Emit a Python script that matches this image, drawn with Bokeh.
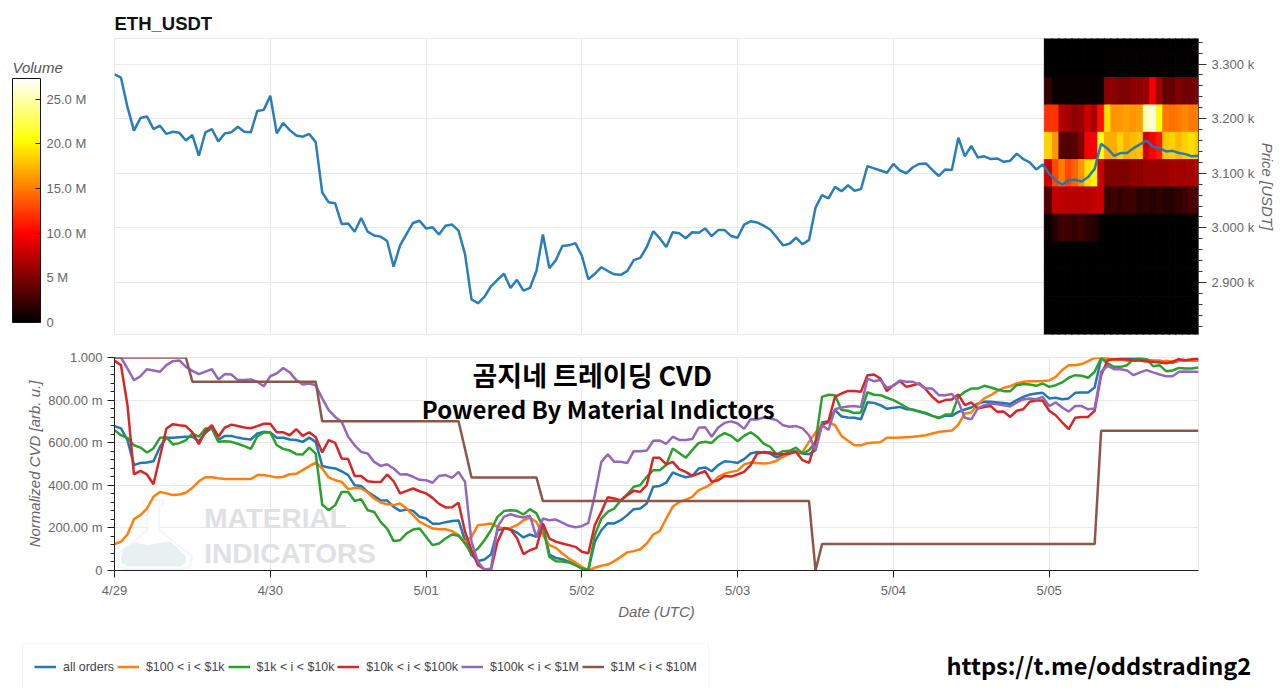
from bokeh.plotting import figure
from bokeh.layouts import column, row
from bokeh.models import (ColumnDataSource, FixedTicker, Range1d, LinearColorMapper, ColorBar,
                          Legend, LegendItem, Label, PolyAnnotation)
from bokeh.embed import file_html
from bokeh.resources import INLINE

hours = list(range(168))
day_ticks = [0, 24, 48, 72, 96, 120, 144]
day_labels = ["4/29", "4/30", "5/01", "5/02", "5/03", "5/04", "5/05"]

price = [3281,3275,3221,3178,3201,3204,3181,3187,3172,3176,3174,3160,3170,3132,3175,3181,3158,3173,3175,3185,3176,3175,3214,3216,
         3242,3173,3192,3179,3169,3167,3172,3157,3065,3047,3045,3007,3008,2993,3018,2993,2986,2984,2976,2929,2968,2989,3009,3013,
         2999,3001,2988,3004,3006,2995,2952,2869,2862,2874,2893,2905,2916,2890,2905,2885,2890,2921,2988,2926,2941,2967,2968,2972,
         2949,2906,2916,2928,2921,2915,2914,2921,2941,2945,2965,2994,2981,2965,2992,2990,2981,2992,2991,2999,2985,2996,2996,2985,
         2982,3006,3012,3010,3004,2997,2983,2968,2971,2982,2970,2978,3037,3060,3054,3075,3067,3078,3068,3071,3113,3109,3105,3101,
         3117,3105,3100,3111,3117,3118,3106,3095,3107,3106,3165,3131,3150,3129,3131,3126,3127,3121,3123,3136,3126,3120,3107,3116,
         3099,3087,3079,3087,3088,3085,3093,3108,3154,3145,3132,3137,3137,3146,3153,3160,3148,3146,3140,3141,3137,3135,3131,3132]

cvd_all = [.678,.667,.612,.495,.505,.507,.513,.58,.623,.623,.626,.628,.628,.607,.646,.67,.613,.632,.632,.624,.618,.615,.643,.651,
           .648,.623,.623,.615,.613,.604,.624,.604,.491,.484,.479,.466,.448,.40,.397,.369,.35,.33,.329,.299,.28,.286,.28,.252,
           .244,.22,.219,.227,.232,.235,.142,.072,.045,.052,.075,.189,.197,.194,.178,.155,.169,.158,.213,.075,.059,.053,.041,.028,
           .013,.002,.135,.189,.222,.221,.236,.26,.288,.291,.315,.393,.397,.412,.46,.448,.438,.443,.479,.484,.466,.495,.513,.51,
           .505,.523,.549,.556,.554,.549,.531,.541,.557,.56,.549,.546,.565,.695,.701,.753,.723,.718,.717,.71,.79,.787,.776,.759,
           .764,.768,.757,.756,.745,.737,.726,.717,.726,.726,.745,.756,.765,.784,.792,.792,.789,.786,.782,.80,.815,.826,.831,.834,
           .808,.811,.804,.808,.834,.836,.836,.859,.995,.995,.992,.995,.995,.995,.995,.99,.985,.985,.98,.975,.985,.985,.985,.985]

cvd_100_1k = [.124,.135,.169,.241,.26,.291,.346,.369,.362,.354,.357,.365,.388,.419,.438,.438,.433,.43,.43,.43,.429,.429,.448,.448,
              .443,.437,.44,.452,.454,.471,.49,.507,.479,.437,.424,.416,.382,.388,.385,.366,.338,.319,.311,.307,.315,.291,.26,.228,
              .213,.197,.194,.194,.185,.166,.135,.158,.213,.216,.221,.205,.197,.2,.213,.236,.247,.228,.166,.119,.106,.08,.056,.038,
              .017,0,.013,.022,.028,.044,.064,.085,.091,.1,.127,.169,.185,.244,.299,.322,.332,.346,.377,.39,.408,.44,.455,.463,
              .469,.498,.507,.505,.502,.505,.515,.534,.549,.557,.557,.604,.648,.685,.695,.682,.632,.609,.588,.588,.598,.601,.602,.623,
              .623,.624,.626,.628,.631,.635,.643,.651,.654,.657,.685,.737,.742,.779,.808,.823,.842,.858,.865,.878,.886,.889,.889,.89,
              .892,.909,.941,.964,.964,.969,.983,.998,1.0,.992,.99,.99,.985,.985,.99,.985,.985,.98,.985,.98,.985,.985,.985,.985]

cvd_1k_10k = [.659,.635,.623,.588,.577,.554,.573,.623,.626,.592,.598,.612,.643,.628,.667,.667,.604,.607,.604,.595,.584,.571,.629,.648,
              .648,.588,.571,.563,.546,.545,.577,.549,.31,.283,.307,.369,.369,.326,.335,.283,.275,.228,.197,.138,.142,.174,.192,.197,
              .158,.119,.127,.15,.169,.163,.127,.08,.103,.142,.189,.252,.279,.283,.28,.263,.288,.268,.205,.064,.044,.042,.038,.025,
              .009,.002,.166,.244,.275,.291,.33,.358,.393,.401,.44,.471,.471,.495,.573,.552,.529,.565,.599,.604,.599,.628,.645,.632,
              .607,.632,.649,.628,.596,.581,.545,.56,.562,.577,.549,.565,.604,.815,.825,.823,.753,.75,.739,.742,.837,.825,.823,.811,
              .80,.784,.765,.753,.748,.74,.726,.715,.732,.734,.815,.839,.854,.854,.867,.859,.85,.842,.842,.87,.876,.873,.867,.878,
              .862,.87,.883,.905,.917,.914,.905,.933,.998,.972,.956,.956,.964,.992,.995,.992,.959,.964,.936,.939,.951,.948,.948,.953]

cvd_10k_100k = [.984,.964,.776,.451,.468,.451,.405,.534,.667,.687,.682,.678,.648,.593,.654,.682,.628,.671,.685,.678,.671,.668,.678,.689,
                .689,.649,.649,.635,.664,.632,.649,.626,.554,.612,.599,.526,.523,.444,.444,.419,.416,.415,.451,.419,.362,.374,.385,.372,
                .362,.341,.313,.296,.297,.318,.182,.095,.025,.006,.002,.135,.2,.192,.153,.077,.095,.106,.221,.15,.135,.127,.119,.111,
                .088,.081,.213,.275,.344,.338,.329,.354,.374,.369,.401,.529,.529,.498,.51,.476,.463,.444,.455,.466,.416,.424,.444,.441,
                .451,.463,.495,.549,.556,.554,.546,.546,.549,.557,.518,.505,.604,.682,.701,.815,.831,.843,.843,.839,.917,.92,.901,.842,
                .87,.889,.862,.87,.878,.85,.815,.789,.80,.803,.826,.776,.789,.761,.768,.772,.745,.746,.721,.75,.757,.792,.798,.798,
                .75,.729,.695,.664,.717,.721,.721,.75,.917,.987,.992,.992,.991,.986,.986,.981,.98,.977,.973,.98,.992,.987,.992,.994]

cvd_100k_1m = [1.0,1.0,.948,.894,.912,.945,.939,.933,.964,.983,.986,.956,.937,.922,.934,.945,.897,.922,.92,.894,.894,.897,.886,.865,
               .912,.925,.951,.93,.894,.873,.878,.87,.808,.753,.721,.698,.628,.588,.557,.549,.51,.491,.499,.479,.451,.452,.44,.426,
               .424,.412,.444,.448,.435,.463,.416,.135,.041,.002,.009,.205,.252,.264,.255,.249,.257,.158,.244,.236,.239,.225,.21,.203,
               .208,.224,.354,.51,.545,.51,.51,.505,.56,.56,.563,.609,.61,.595,.628,.613,.613,.617,.67,.673,.628,.671,.693,.70,
               .69,.665,.71,.709,.718,.714,.706,.682,.675,.678,.667,.635,.565,.682,.66,.757,.765,.77,.772,.767,.901,.889,.894,.858,
               .867,.892,.886,.886,.873,.854,.854,.823,.823,.829,.792,.717,.71,.761,.776,.784,.781,.776,.77,.789,.803,.808,.804,.815,
               .772,.789,.765,.746,.772,.772,.757,.761,.933,.961,.945,.945,.939,.917,.93,.941,.93,.92,.912,.912,.933,.934,.933,.933]

cvd_1m_10m = [1.0,1.0,1.0,1.0,1.0,1.0,1.0,1.0,1.0,1.0,1.0,1.0,.886,.886,.886,.886,.886,.886,.886,.886,.886,.886,.886,.886,
              .886,.886,.886,.886,.886,.886,.886,.886,.701,.701,.701,.701,.701,.701,.701,.701,.701,.701,.701,.701,.701,.701,.701,.701,
              .701,.701,.701,.701,.701,.701,.57,.437,.437,.437,.437,.437,.437,.437,.437,.437,.437,.437,.326,.326,.326,.326,.326,.326,
              .326,.326,.326,.326,.326,.326,.326,.326,.326,.326,.326,.326,.326,.326,.326,.326,.326,.326,.326,.326,.326,.326,.326,.326,
              .326,.326,.326,.326,.326,.326,.326,.326,.326,.326,.326,.326,0,.124,.124,.124,.124,.124,.124,.124,.124,.124,.124,.124,
              .124,.124,.124,.124,.124,.124,.124,.124,.124,.124,.124,.124,.124,.124,.124,.124,.124,.124,.124,.124,.124,.124,.124,.124,
              .124,.124,.124,.124,.124,.124,.124,.124,.656,.656,.656,.656,.656,.656,.656,.656,.656,.656,.656,.656,.656,.656,.656,.656]

series_names = ["all orders", "$100 < i < $1k", "$1k < i < $10k", "$10k < i < $100k", "$100k < i < $1M", "$1M < i < $10M"]
series_colors = ["#1f77b4", "#ff7f0e", "#2ca02c", "#d62728", "#9467bd", "#8c564b"]
series_values = [cvd_all, cvd_100_1k, cvd_1k_10k, cvd_10k_100k, cvd_100k_1m, cvd_1m_10m]
for s in series_values + [price]:
    assert len(s) == 168, len(s)

# order-book volume heat strip, millions, one value per hour h144..h167, one row per 50 USD price bin
heat_hours = list(range(144, 168))
heat_rows = {
    3350: [.1,.1,.1,.1,.1,.1,.1,.1,.1,.1,.1,.1,.1,.1,.1,.1,.1,.1,.1,.1,.1,.1,.1,.1],
    3300: [.1,.1,.1,.1,.1,.1,.1,.1,.1,.2,.2,.2,.2,.2,.2,.2,.2,.2,.2,.2,.2,.2,.2,.2],
    3250: [2,.5,.5,.5,.5,.5,.5,.5,.5,5.5,5.5,5,5,5.5,5.5,6,9.5,6,4,4,5,4.5,4.5,5],
    3200: [12,12,7,6.5,5.5,6,8,6.5,10.5,19,16,16,16.5,16,16.5,25,26.5,20.5,15,14.5,15,15.5,15,15],
    3150: [18.5,16,3.5,3,3.5,5,9.5,9.5,21,17,17,18.5,17,17.5,18,8,10,11,18,18.5,17.5,18.5,19,18],
    3100: [8,13,15,13,14,16,19,20,8,5,5,5,5,5.5,5.5,6,6,6,6,6.5,6.5,6.5,6.5,7],
    3050: [3,7.5,7.5,7.2,7.2,7.2,7.2,7.5,8,2,2.5,2,2.5,2.5,1.5,2,1.5,2,1.5,1.5,2,2.5,3,2.5],
    3000: [.5,1.5,2.5,2.5,2,2.5,1.8,1.5,.4,.1,.1,.1,.1,.1,.1,.1,.1,.1,.1,.1,.1,.1,.1,.1],
    2950: [.1,.1,.1,.1,.1,.1,.1,.1,.1,.05,.05,.05,.05,.05,.05,.05,.05,.05,.05,.05,.05,.05,.05,.05],
    2900: [.05,.05,.05,.05,.05,.05,.05,.05,.05,.05,.05,.05,.05,.05,.05,.05,.05,.05,.05,.05,.05,.05,.05,.05],
    2850: [.05,.05,.05,.05,.05,.05,.05,.05,.05,.05,.05,.05,.05,.05,.05,.05,.05,.05,.05,.05,.05,.05,.05,.05],
    2800: [.05,.05,.05,.05,.05,.05,.05,.05,.05,.05,.05,.05,.05,.05,.05,.05,.05,.05,.05,.05,.05,.05,.05,.05],
}

price_ticks = [2900, 3000, 3100, 3200, 3300]
price_labels = ["2.900 k", "3.000 k", "3.100 k", "3.200 k", "3.300 k"]
cvd_ticks = [0, .2, .4, .6, .8, 1.0]
cvd_labels = ["0", "200.00 m", "400.00 m", "600.00 m", "800.00 m", "1.000"]
vol_ticks = [0, 5, 10, 15, 20, 25]
vol_labels = ["0", "5 M", "10.0 M", "15.0 M", "20.0 M", "25.0 M"]


def hot(n=256):
    out = []
    for i in range(n):
        t = i / (n - 1)
        r = min(1, t / .365)
        g = max(0, min(1, (t - .365) / .381))
        b = max(0, min(1, (t - .746) / .254))
        out.append("#%02x%02x%02x" % (round(r * 255), round(g * 255), round(b * 255)))
    return out


palette = hot()
FONT = "Liberation Sans"
CJK = "Noto Sans CJK KR"
GREY = "#666666"
GRID = "#e9e9e9"
x_range = Range1d(0, 167)
mapper = LinearColorMapper(palette=palette, low=0, high=27.3)

# ---------- colour bar column ----------
p0 = figure(width=114, height=348, x_range=Range1d(0, 114), y_range=Range1d(348, 0),
            x_axis_type=None, y_axis_type=None, toolbar_location=None, output_backend="svg", frame_align=False,
            min_border_left=0, min_border_right=0, min_border_top=0, min_border_bottom=0)
p0.outline_line_color = None
p0.add_layout(Label(x=12, y=67, text="Volume", text_font=FONT, text_font_size="15px",
                    text_font_style="italic", text_color="#555555", text_baseline="middle"))
bar = ColorBar(color_mapper=mapper, ticker=FixedTicker(ticks=vol_ticks),
               major_label_overrides=dict(zip(vol_ticks, vol_labels)),
               width=28, height=244, location=(12, 26), padding=0, margin=0,
               major_label_text_font=FONT, major_label_text_font_size="13px",
               major_label_text_color=GREY, label_standoff=6,
               major_tick_line_color="#222222", major_tick_in=5, minor_tick_line_color=None,
               bar_line_color="#111111", bar_line_width=1, background_fill_color=None,
               border_line_color=None)
p0.add_layout(bar, "center")

# ---------- price pane ----------
p1 = figure(width=1166, height=348, x_range=x_range,
            y_range=Range1d(2804.8, 3346.7), y_axis_location="right",
            toolbar_location=None, output_backend="svg",
            min_border_left=0, min_border_right=82, min_border_top=38, min_border_bottom=14)
p1.title.text = "ETH_USDT"
p1.title.text_font = FONT
p1.title.text_font_size = "18.5px"
p1.title.text_font_style = "bold"
p1.title.text_color = "#111111"
p1.title.standoff = 10
p1.xaxis.visible = False
p1.xgrid.ticker = FixedTicker(ticks=day_ticks)
p1.ygrid.ticker = FixedTicker(ticks=price_ticks)
for g in (p1.xgrid, p1.ygrid):
    g.grid_line_color = GRID
    g.grid_line_width = 1
p1.outline_line_color = GRID

ax = p1.yaxis[0]
ax.ticker = FixedTicker(ticks=price_ticks, minor_ticks=list(range(2820, 3345, 20)))
ax.major_label_overrides = dict(zip(price_ticks, price_labels))
ax.axis_label = "Price [USDT]"
ax.axis_label_text_font = FONT
ax.axis_label_text_font_size = "15px"
ax.axis_label_text_font_style = "italic"
ax.axis_label_text_color = GREY
ax.axis_label_standoff = 2
ax.major_label_text_font = FONT
ax.major_label_text_font_size = "13px"
ax.major_label_text_color = GREY
ax.axis_line_color = "#555555"
ax.major_tick_line_color = "#333333"
ax.minor_tick_line_color = "#333333"
ax.major_tick_in = 0
ax.major_tick_out = 8
ax.minor_tick_in = 0
ax.minor_tick_out = 4

left, right, bottom, top, vol = [], [], [], [], []
for centre, cells in heat_rows.items():
    for h, v in zip(heat_hours, cells):
        left.append(h - .5 if h > 144 else 143.25)
        right.append(h + .5)
        bottom.append(centre - 25)
        top.append(centre + 25)
        vol.append(v)
heat = ColumnDataSource(dict(left=left, right=right, bottom=bottom, top=top, vol=vol))
cm = {"field": "vol", "transform": mapper}
p1.quad(left="left", right="right", bottom="bottom", top="top", source=heat,
        fill_color=cm, line_color=cm, line_width=1)
p1.line(hours, price, line_color="#1f77b4", line_width=2.5, line_alpha=.95)

# ---------- CVD pane ----------
p2 = figure(width=1280, height=277, x_range=x_range,
            y_range=Range1d(0, 1.0), toolbar_location=None, output_backend="svg",
            min_border_left=114, min_border_right=82, min_border_top=9, min_border_bottom=55)
p2.xgrid.ticker = FixedTicker(ticks=day_ticks)
p2.ygrid.ticker = FixedTicker(ticks=cvd_ticks)
for g in (p2.xgrid, p2.ygrid):
    g.grid_line_color = GRID
    g.grid_line_width = 1
p2.outline_line_color = GRID

xa = p2.xaxis[0]
xa.ticker = FixedTicker(ticks=day_ticks)
xa.major_label_overrides = dict(zip(day_ticks, day_labels))
xa.axis_label = "Date (UTC)"
ya = p2.yaxis[0]
ya.ticker = FixedTicker(ticks=cvd_ticks, minor_ticks=[i * .04 for i in range(26)])
ya.major_label_overrides = dict(zip(cvd_ticks, cvd_labels))
ya.axis_label = "Normalized CVD [arb. u.]"
for a in (xa, ya):
    a.axis_label_text_font = FONT
    a.axis_label_text_font_size = "15px"
    a.axis_label_text_font_style = "italic"
    a.axis_label_text_color = GREY
    a.axis_label_standoff = 2
    a.major_label_text_font = FONT
    a.major_label_text_font_size = "13px"
    a.major_label_text_color = GREY
    a.axis_line_color = "#222222"
    a.major_tick_line_color = "#222222"
    a.minor_tick_line_color = "#222222"
    a.major_tick_in = 0
    a.major_tick_out = 7
    a.minor_tick_in = 0
    a.minor_tick_out = 4
xa.minor_tick_line_color = None


def hx(px):  # page pixel to hour, decoration placement only
    return (px - 114.3) / 6.49


def vy(py):  # page pixel to CVD value, decoration placement only
    return (570.3 - py) / 213


# faint watermark
flask_px = [(143, 500), (163, 500), (163, 505), (159, 506), (159, 530), (192, 556), (190, 566), (182, 569),
            (125, 569), (117, 566), (115, 556), (147, 530), (147, 506), (143, 505)]
p2.add_layout(PolyAnnotation(xs=[hx(a) for a, _ in flask_px], ys=[vy(b) for _, b in flask_px],
                             fill_color="#ffffff", fill_alpha=1, line_color="#dfe2e3", line_width=2, level="underlay"))
liquid_px = [(124, 548), (135, 542), (147, 545), (158, 543), (170, 541), (185, 555), (186, 562), (180, 566),
             (128, 566), (121, 562), (121, 555)]
p2.add_layout(PolyAnnotation(xs=[hx(a) for a, _ in liquid_px], ys=[vy(b) for _, b in liquid_px],
                             fill_color="#e8f0f2", fill_alpha=1, line_color=None, level="underlay"))
for txt, py in (("MATERIAL", 518), ("INDICATORS", 553)):
    p2.add_layout(Label(x=hx(204), y=vy(py), text=txt, text_font=FONT, text_font_style="bold",
                        text_font_size="28px", text_color="#dfe1e3", text_baseline="middle", level="underlay"))

for vals, col in zip(series_values, series_colors):
    p2.line(hours, vals, line_color=col, line_width=2.5)

for txt, px, py, size in (("곰지네 트레이딩 CVD", 592, 374, "27px"),
                          ("Powered By Material Indictors", 598, 408, "24px")):
    p2.add_layout(Label(x=hx(px), y=vy(py), text=txt, text_font=CJK, text_font_style="bold", text_font_size=size,
                        text_color="#000000", text_align="center", text_baseline="middle"))

# ---------- legend and link strip ----------
p3 = figure(width=1280, height=63, x_range=Range1d(0, 1280), y_range=Range1d(688, 625),
            x_axis_type=None, y_axis_type=None, toolbar_location=None, output_backend="svg", frame_align=False,
            min_border_left=0, min_border_right=0, min_border_top=0, min_border_bottom=0)
p3.outline_line_color = None
keys = [p3.line([-20, -10], [600, 600], line_color=col, line_width=2.5) for col in series_colors]
legend = Legend(items=[LegendItem(label=n, renderers=[r]) for n, r in zip(series_names, keys)],
                orientation="horizontal", location=(22, -2), margin=0, padding=11,
                label_text_font=FONT, label_text_font_size="12.4px", label_text_color="#444444",
                label_height=23, glyph_width=22, glyph_height=23, label_standoff=7, spacing=3,
                border_line_color="#ececec", background_fill_color="#ffffff")
p3.add_layout(legend, "center")
p3.add_layout(Label(x=946, y=664, text="https://t.me/oddstrading2", text_font=CJK, text_font_style="bold",
                    text_font_size="23.6px", text_color="#000000", text_baseline="middle"))

page = column(row(p0, p1, spacing=0), p2, p3, spacing=0)
open("out.html", "w").write(file_html(page, INLINE))
